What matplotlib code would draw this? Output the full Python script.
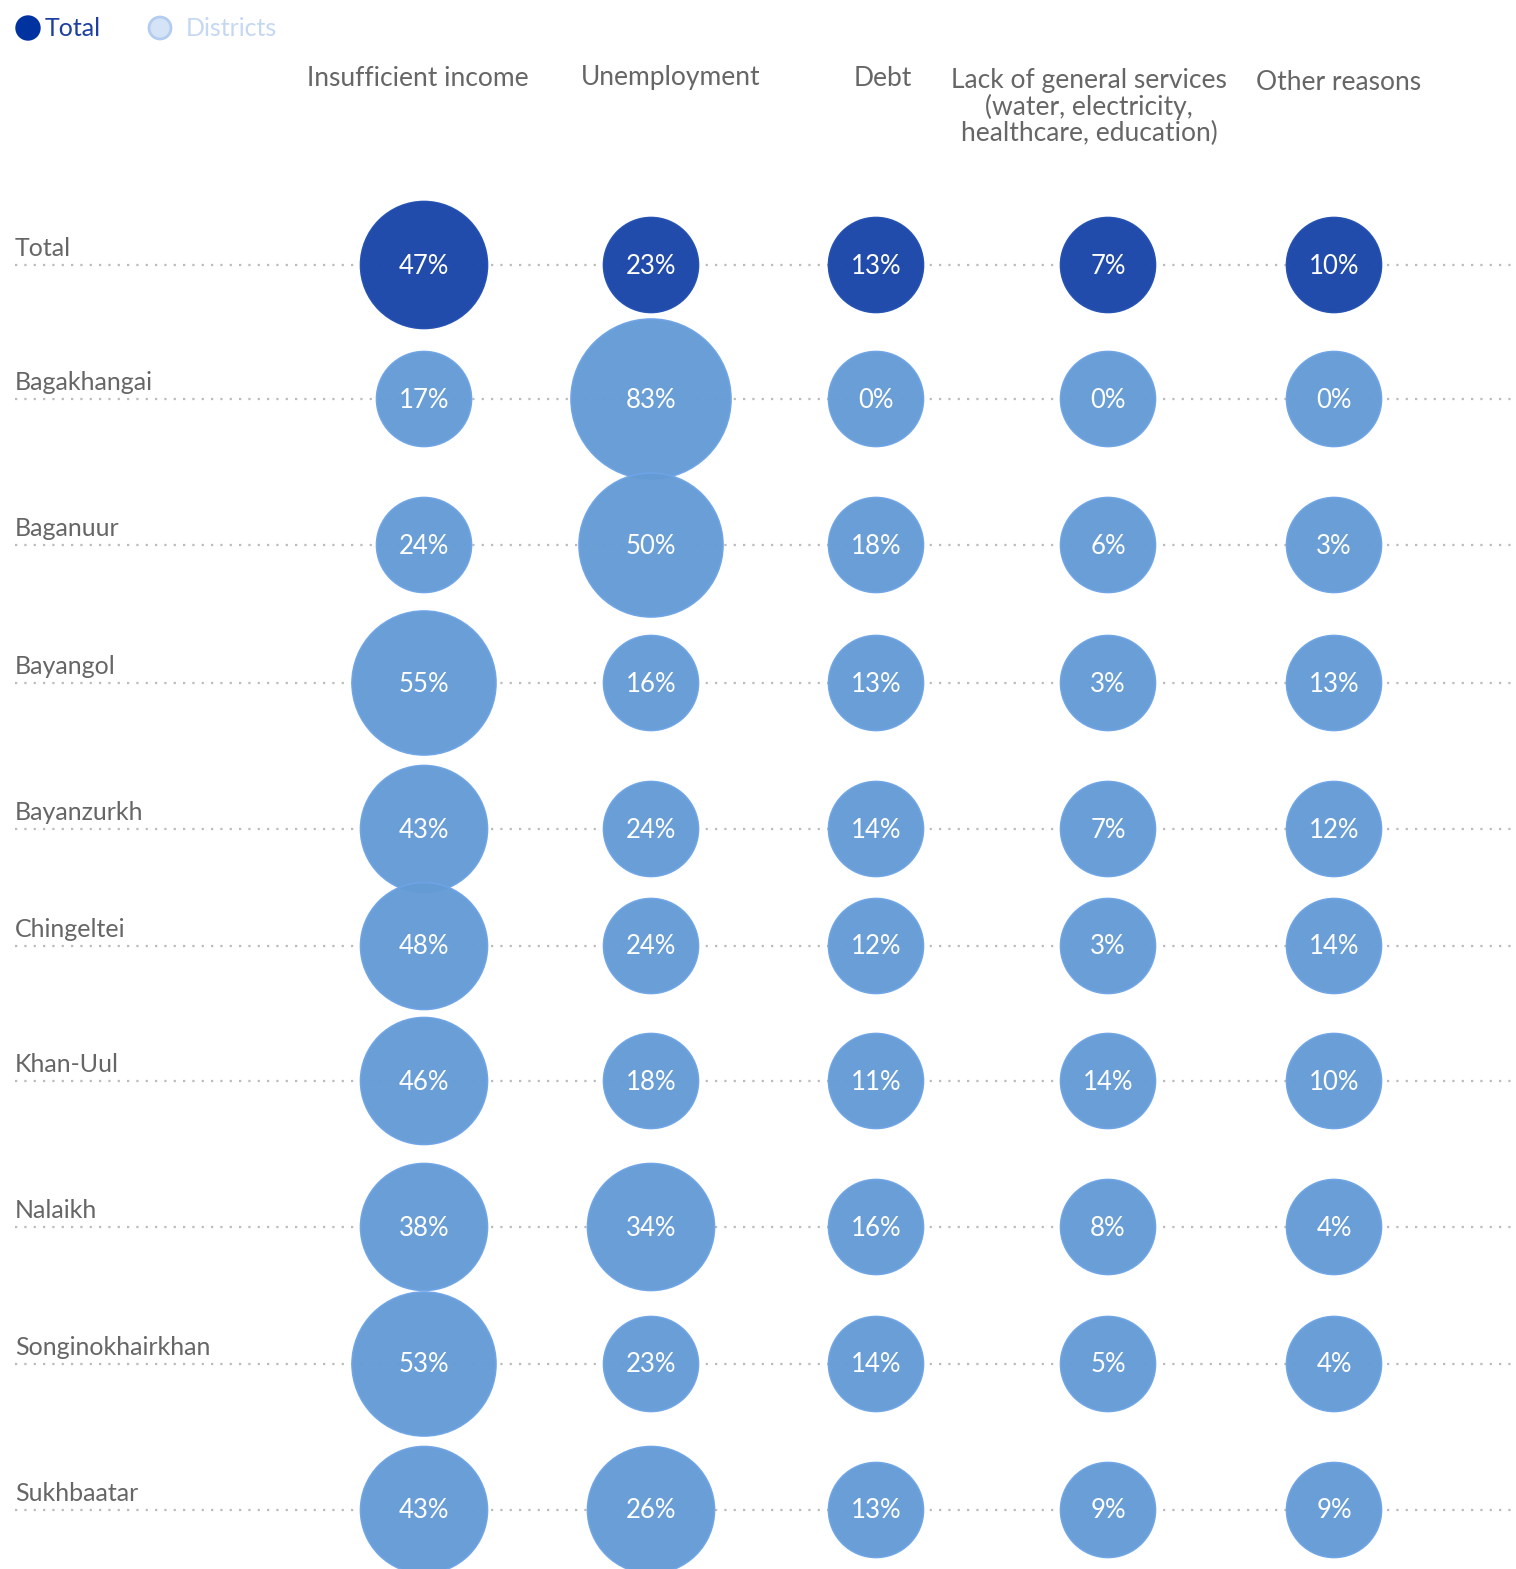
import numpy as np
import matplotlib.pyplot as plt
from matplotlib.patches import Circle

# data
categories = ['Insufficient income', 'Unemployment', 'Debt',
              'Lack of general services\n(water, electricity,\nhealthcare, education)',
              'Other reasons']
rows = ['Total', 'Bagakhangai', 'Baganuur', 'Bayangol', 'Bayanzurkh',
        'Chingeltei', 'Khan-Uul', 'Nalaikh', 'Songinokhairkhan', 'Sukhbaatar']
insufficient_income = [47, 17, 24, 55, 43, 48, 46, 38, 53, 43]
unemployment = [23, 83, 50, 16, 24, 24, 18, 34, 23, 26]
debt = [13, 0, 18, 13, 14, 12, 11, 16, 14, 13]
general_services = [7, 0, 6, 3, 7, 3, 14, 8, 5, 9]
other_reasons = [10, 0, 3, 13, 12, 14, 10, 4, 4, 9]

values = np.array([insufficient_income, unemployment, debt,
                   general_services, other_reasons]).T

# layout (pixels)
W, H = 1516, 1569
col_x = [424, 651, 876, 1108, 1334]
row_y = [265, 399, 545, 683, 829, 946, 1081, 1227, 1364, 1510]
header_x = [418, 671, 883, 1089, 1339]
header_y = [78, 78, 78, 107, 82]

dark = '#1b46a8'
light = '#659bd5'
font = ['Lato', 'DejaVu Sans']

def radius(v):
    # stepped bubble size like the original
    if v < 25.5:
        return 47.5
    if v < 49.5:
        return 63.5
    if v < 60:
        return 72
    return 80

fig = plt.figure(figsize=(W / 100, H / 100), dpi=100)
ax = fig.add_axes([0, 0, 1, 1])
ax.set_xlim(0, W)
ax.set_ylim(H, 0)
ax.set_aspect('equal')
ax.axis('off')

# legend
ax.add_patch(Circle((28, 28), 12, color='#0033a0', zorder=3))
ax.text(45, 29, 'Total', color='#1c3fa0', fontsize=18, family=font, va='center')
ax.add_patch(Circle((160, 28), 11, facecolor='#d5e3f7', edgecolor='#b3cdf0', lw=2, zorder=3))
ax.text(186, 29, 'Districts', color='#c5d8f3', fontsize=18, family=font, va='center')

# headers
for name, hx, hy in zip(categories, header_x, header_y):
    ax.text(hx, hy, name, ha='center', va='center', color='#666666',
            fontsize=19, family=font, linespacing=1.05)

# rows
for i, (name, y) in enumerate(zip(rows, row_y)):
    ax.plot([15, W], [y, y], color='#bbbbbb', lw=1.6, ls=(0, (1, 3.2)), zorder=1)
    ax.text(15, y - 5, name, color='#666666', fontsize=18, family=font, va='bottom')
    for j, x in enumerate(col_x):
        v = values[i, j]
        c = dark if i == 0 else light
        ax.add_patch(Circle((x, y), radius(v), facecolor=c,
                            edgecolor='#6ea4e6' if i else '#2350b3',
                            lw=1.2, alpha=0.97, zorder=2))
        ax.text(x, y + 1, f'{v}%', color='white', fontsize=18.5, family=font,
                ha='center', va='center', zorder=4)

fig.savefig('out.png', dpi=100)
